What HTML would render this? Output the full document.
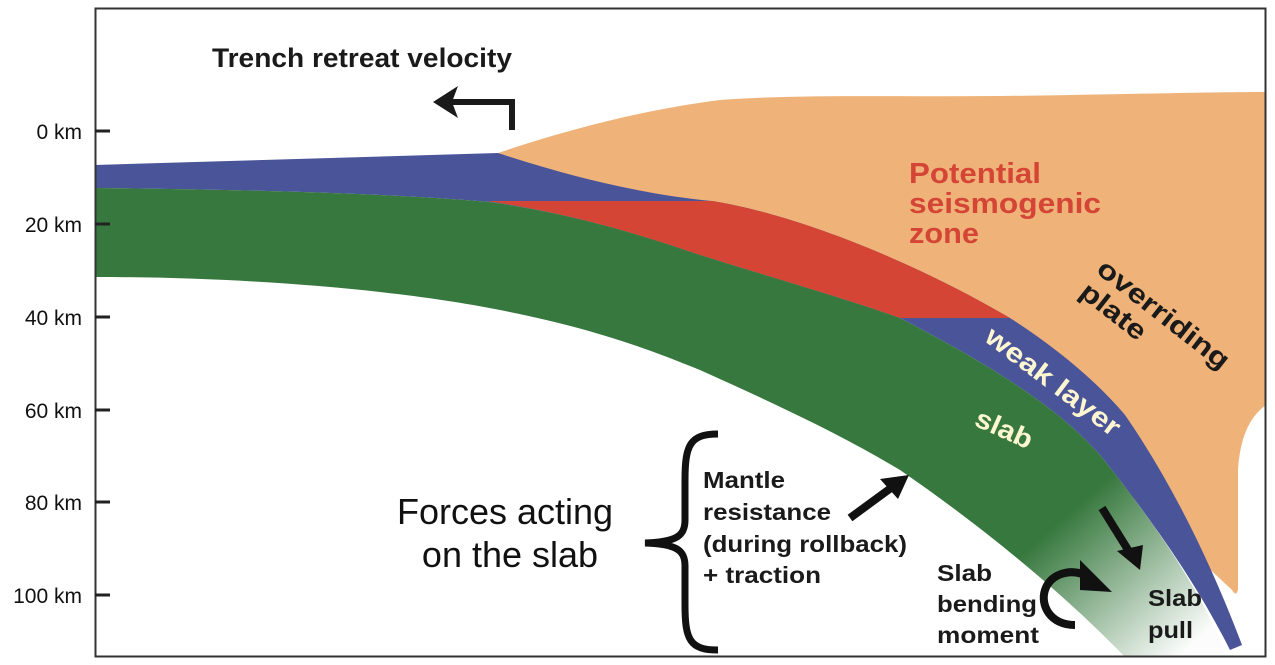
<!DOCTYPE html>
<html><head><style>body{margin:0;background:#fff}svg{display:block}</style></head><body>
<svg width="1275" height="665" viewBox="0 0 1275 665" xmlns="http://www.w3.org/2000/svg" font-family="Liberation Sans, Arial, sans-serif">
<defs>
<linearGradient id="g" gradientUnits="userSpaceOnUse" x1="1060" y1="520" x2="1180" y2="655">
<stop offset="0" stop-color="#36783d"/><stop offset="1" stop-color="#36783d" stop-opacity="0.02"/>
</linearGradient>
</defs>
<path d="M498,153 C560,132 640,110 720,100 C800,94 900,97 1000,96 C1100,95 1200,92 1266,92 L1266,405 C1248,418 1240,440 1238,470 L1238,590 Q1236,597 1232,590 L1200,560 L1150,480 L1080,400 L960,310 L700,225 Z" fill="#efb37a"/>
<path d="M95,165 L498,153 C580,180 650,195 712,201 C800,215 920,265 1010,318 C1060,350 1100,385 1125,415 C1170,480 1210,560 1242,645 L1230,650 C1200,590 1160,530 1100,455 C1060,410 1000,370 900,318 C850,300 780,280 700,255 C650,238 580,215 490,202 C420,196 300,190 95,188 Z" fill="#4a5499"/>
<path d="M487,201 L712,201 C800,215 920,265 1010,318 L900,318 C850,300 780,280 700,255 C650,238 580,215 487,201 Z" fill="#d44536"/>
<path d="M95,188 C300,190 420,196 490,202 C580,215 650,238 700,255 C780,280 850,300 900,318 C1000,370 1060,410 1100,455 C1160,530 1200,590 1228,657 L1125,657 C1060,590 980,525 900,470 C850,440 800,415 700,370 C650,350 600,330 500,310 C400,290 250,277 95,277 Z" fill="url(#g)"/>
<rect x="95.5" y="8.5" width="1170" height="648" fill="none" stroke="#333" stroke-width="2"/>
<g stroke="#222" stroke-width="3">
<line x1="95" y1="131" x2="110" y2="131"/><line x1="95" y1="224" x2="110" y2="224"/><line x1="95" y1="317" x2="110" y2="317"/>
<line x1="95" y1="410" x2="110" y2="410"/><line x1="95" y1="502" x2="110" y2="502"/><line x1="95" y1="595" x2="110" y2="595"/>
</g>
<g font-size="21" fill="#111" text-anchor="end">
<text x="82" y="139">0 km</text><text x="82" y="232">20 km</text><text x="82" y="325">40 km</text>
<text x="82" y="418">60 km</text><text x="82" y="510">80 km</text><text x="82" y="603">100 km</text>
</g>
<text x="212" y="67" font-size="27" font-weight="bold" fill="#1a1a1a" textLength="300" lengthAdjust="spacingAndGlyphs">Trench retreat velocity</text>
<path d="M512,130 L512,102 L445,102" fill="none" stroke="#1a1a1a" stroke-width="6"/>
<path d="M433,102 L458,86 L452,102 L458,118 Z" fill="#1a1a1a"/>
<g font-size="29" font-weight="bold" fill="#d44536">
<text x="909" y="183" textLength="132" lengthAdjust="spacingAndGlyphs">Potential</text><text x="909" y="213" textLength="192" lengthAdjust="spacingAndGlyphs">seismogenic</text><text x="909" y="243" textLength="70" lengthAdjust="spacingAndGlyphs">zone</text>
</g>
<text transform="translate(1095,272) rotate(38)" font-size="27" font-weight="bold" fill="#1a1a1a" textLength="160" lengthAdjust="spacingAndGlyphs">overriding</text>
<text transform="translate(1078,295) rotate(38)" font-size="27" font-weight="bold" fill="#1a1a1a" textLength="76" lengthAdjust="spacingAndGlyphs">plate</text>
<text transform="translate(983,340) rotate(37)" font-size="27" font-weight="bold" fill="#fdf6d0" textLength="162" lengthAdjust="spacingAndGlyphs">weak layer</text>
<text transform="translate(973,425) rotate(24)" font-size="27" font-weight="bold" fill="#fdf6d0" textLength="60" lengthAdjust="spacingAndGlyphs">slab</text>
<g font-size="36" fill="#111" text-anchor="middle">
<text x="505" y="524">Forces acting</text><text x="510" y="567">on the slab</text>
</g>
<path d="M718,434 C690,434 685,445 685,480 L685,520 C685,535 678,542 645,543 C678,544 685,551 685,566 L685,605 C685,640 690,650 718,650" fill="none" stroke="#111" stroke-width="7"/>
<g font-size="23" font-weight="bold" fill="#1a1a1a">
<text x="703" y="488" textLength="82" lengthAdjust="spacingAndGlyphs">Mantle</text><text x="703" y="520" textLength="128" lengthAdjust="spacingAndGlyphs">resistance</text><text x="703" y="552" textLength="204" lengthAdjust="spacingAndGlyphs">(during rollback)</text><text x="703" y="583" textLength="118" lengthAdjust="spacingAndGlyphs">+ traction</text>
<text x="937" y="581" textLength="55" lengthAdjust="spacingAndGlyphs">Slab</text><text x="937" y="612" textLength="100" lengthAdjust="spacingAndGlyphs">bending</text><text x="937" y="643" textLength="102" lengthAdjust="spacingAndGlyphs">moment</text>
<text x="1148" y="606" textLength="54" lengthAdjust="spacingAndGlyphs">Slab</text><text x="1148" y="638" textLength="45" lengthAdjust="spacingAndGlyphs">pull</text>
</g>
<path d="M850,518 L895,485" stroke="#111" stroke-width="8"/>
<path d="M909,475 L880,479 L898,499 Z" fill="#111"/>
<path d="M1102,508 L1130,553" stroke="#111" stroke-width="8"/>
<path d="M1140,570 L1117,551 L1143,545 Z" fill="#111"/>
<path d="M1075,625 C1050,625 1040,605 1045,590 C1050,575 1068,568 1085,575" fill="none" stroke="#111" stroke-width="8"/>
<path d="M1112,592 L1080,560 L1080,590 Z" fill="#111"/>
</svg>
</body></html>
